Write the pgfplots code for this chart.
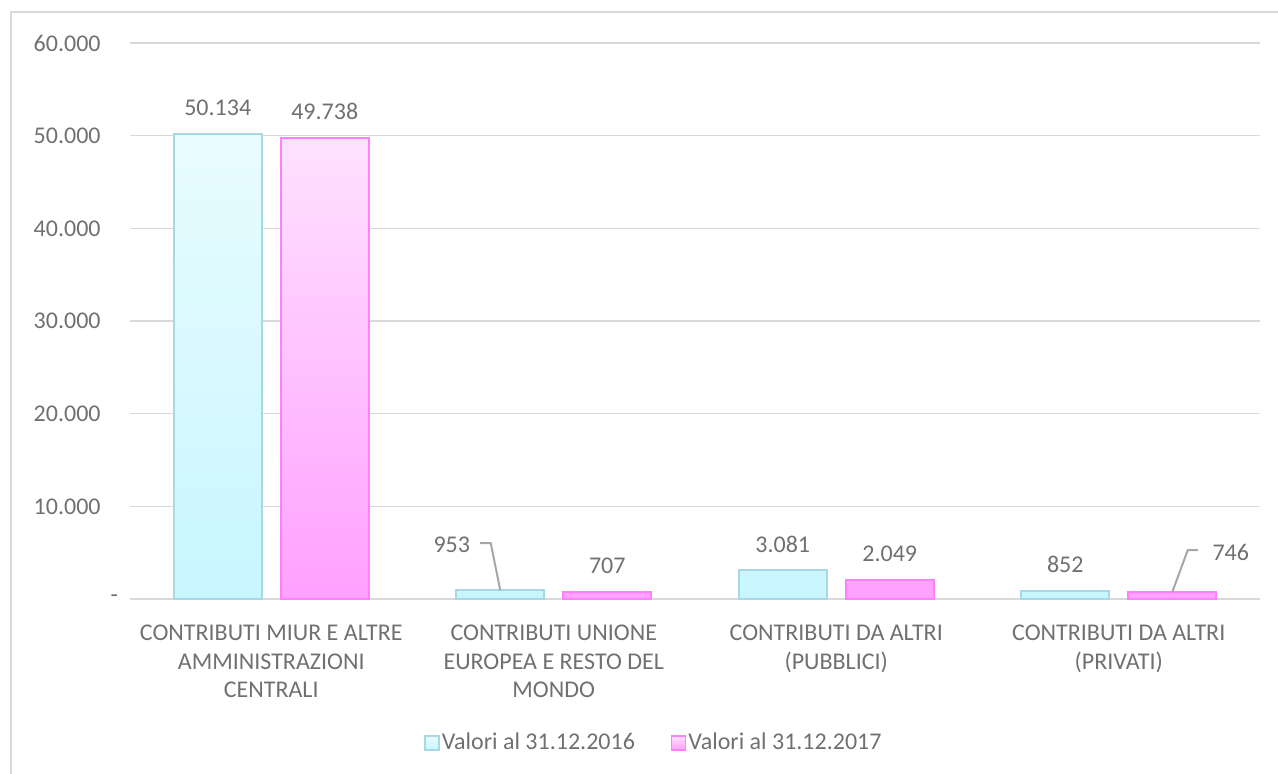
\documentclass[border=0pt]{standalone}
\usepackage{fontspec}
\setmainfont{Carlito}
\usepackage{pgfplots}
\pgfplotsset{compat=1.18}
\usepackage{pgfplotstable}

\definecolor{txt}{HTML}{707070}
\definecolor{gridc}{HTML}{D9D9D9}
\definecolor{leader}{HTML}{A6A6A6}
\definecolor{cyanTop}{HTML}{E8FCFF}
\definecolor{cyanBot}{HTML}{C8F6FF}
\definecolor{cyanEdge}{HTML}{A8D8E6}
\definecolor{pinkTop}{HTML}{FFE2FF}
\definecolor{pinkBot}{HTML}{FFA0FF}
\definecolor{pinkEdge}{HTML}{FF80FF}

% x  y  label shift (dx, dy in pt)
\pgfplotstableread{
x y dx dy
0 50134 0 13.25
1 953 -24.25 22.5
2 3081 0 13.25
3 852 0 13.25
}\valoriA
\pgfplotstableread{
x y dx dy
0 49738 0 13.25
1 707 0 13.25
2 2049 0 13.25
3 746 29.25 20
}\valoriB

\begin{document}
\fontsize{12}{14.25}\selectfont
\begin{tikzpicture}
\useasboundingbox (-65pt,-87pt) rectangle (574pt,299.5pt);
\draw[gridc, line width=1pt] (-59.5pt,-120pt) -- (-59.5pt,293.5pt) -- (620pt,293.5pt);
\begin{axis}[
    scale only axis,
    width=565pt, height=278pt,
    ybar=9.5pt, bar width=44pt,
    xmin=-0.5, xmax=3.5,
    ymin=0, ymax=60000,
    xtick={0,1,2,3},
    xticklabels={{CONTRIBUTI MIUR E ALTRE\\AMMINISTRAZIONI\\CENTRALI},
                 {CONTRIBUTI UNIONE\\EUROPEA E RESTO DEL\\MONDO},
                 {CONTRIBUTI DA ALTRI\\(PUBBLICI)},
                 {CONTRIBUTI DA ALTRI\\(PRIVATI)}},
    ytick={0,10000,20000,30000,40000,50000,60000},
    yticklabels={\rlap{\hspace{5.5pt}-},10.000,20.000,30.000,40.000,50.000,60.000},
    scaled y ticks=false,
    /pgf/number format/assume math mode=true,
    axis x line*=bottom,
    axis y line*=left,
    y axis line style={draw=none},
    x axis line style={draw=gridc, line width=1pt},
    major tick length=0pt,
    ymajorgrids,
    grid style={draw=gridc, line width=0.75pt},
    ticklabel style={font=\fontsize{12}{14.25}\selectfont, text=txt},
    yticklabel style={anchor=east, inner sep=0pt, xshift=-14.5pt},
    xticklabel style={anchor=north, inner sep=0pt, yshift=-13pt, align=center},
    clip=false,
    legend columns=2,
    legend style={at={(0.4637,-0.259)}, anchor=center, draw=none, fill=none,
        font=\fontsize{12}{14.25}\selectfont, text=txt,
        nodes={inner sep=1pt},
        /tikz/every even column/.append style={column sep=17pt}},
    legend image code/.code={\draw[#1, line width=0.75pt] (0pt,-3.5pt) rectangle (7pt,3.5pt);},
    labelled/.style={
        nodes near coords,
        visualization depends on={\thisrow{dx} \as \dx},
        visualization depends on={\thisrow{dy} \as \dy},
        nodes near coords style={font=\fontsize{12}{14.25}\selectfont, text=txt,
            anchor=center, inner sep=0pt, xshift=\dx pt, yshift=\dy pt,
            /pgf/number format/.cd, fixed, precision=0, 1000 sep={.}},
    },
]
\addplot[labelled, draw=cyanEdge, line width=1pt, top color=cyanTop, bottom color=cyanBot]
    table[x=x, y=y] {\valoriA};
\addplot[labelled, draw=pinkEdge, line width=1pt, top color=pinkTop, bottom color=pinkBot]
    table[x=x, y=y] {\valoriB};
\legend{Valori al 31.12.2016, Valori al 31.12.2017}

\draw[leader, line width=1pt] ([xshift=-26.75pt]axis cs:1,953) -- ++(-4.75pt,23.5pt) -- ++(-5.5pt,0pt);
\draw[leader, line width=1pt] ([xshift=26.75pt]axis cs:3,746) -- ++(7.75pt,21pt) -- ++(5pt,0pt);
\end{axis}
\end{tikzpicture}
\end{document}
